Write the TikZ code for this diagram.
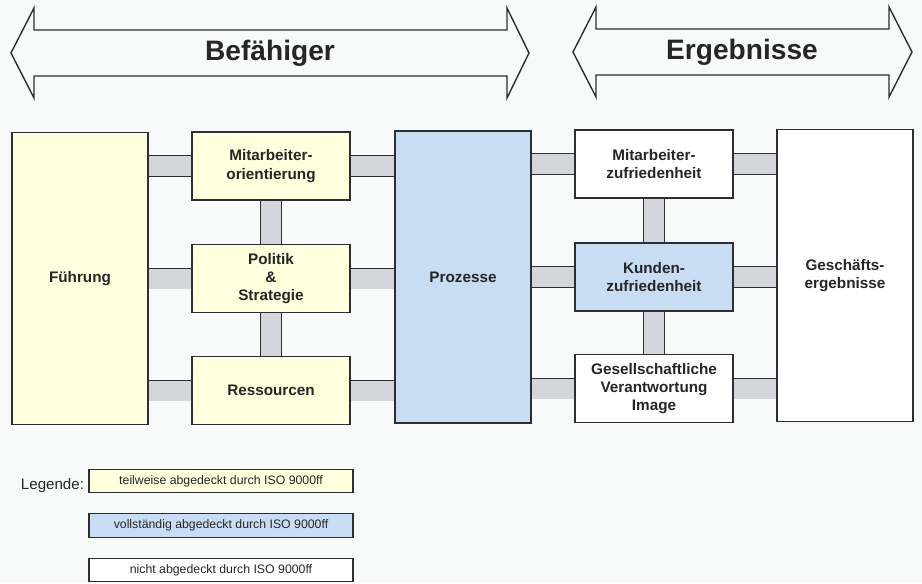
\documentclass[tikz,border=0pt]{standalone}
\usepackage{fontspec}
\setmainfont{Liberation Sans}
\usetikzlibrary{backgrounds}
\definecolor{teilgelb}{RGB}{255,255,222}
\definecolor{vollblau}{RGB}{200,221,243}
\definecolor{steggrau}{RGB}{212,213,220}
\definecolor{linie}{RGB}{45,45,52}
\definecolor{papier}{RGB}{248,250,250}
\begin{document}
\begin{tikzpicture}[x=0.02cm,y=-0.02cm,inner sep=0pt,outer sep=0pt,line width=0.8pt,
every node/.style={text=black!85,align=center,font=\fontsize{8.7}{10.4}\selectfont\bfseries},
kasten/.style={draw=linie,fill=white,rectangle,minimum width=3.16cm,minimum height=1.36cm},
saeule/.style={draw=linie,fill=white,rectangle,minimum width=2.72cm,minimum height=5.84cm},
steg/.style={draw=linie,double=steggrau,double distance=0.4cm},
pfeil/.style={draw=linie,line join=miter},
titel/.style={font=\fontsize{16}{19}\selectfont\bfseries},
legbox/.style={draw=linie,rectangle,minimum width=5.28cm,minimum height=0.47cm,font=\fontsize{7}{8}\selectfont}]
\useasboundingbox (0,0) rectangle (922,583);
\draw[pfeil] (11,53) -- (34,8) -- (34,30) -- (507,30) -- (507,8) -- (529,53) -- (507,98) -- (507,76) -- (34,76) -- (34,98) -- cycle;
\draw[pfeil] (573,52) -- (596,7) -- (596,29) -- (889,29) -- (889,7) -- (912,52) -- (889,97) -- (889,75) -- (596,75) -- (596,97) -- cycle;
\draw (270,53) node[titel] (befaehiger) {Befähiger};
\draw (742,52) node[titel] (ergebnisse) {Ergebnisse};
\draw (80,278.5) node[saeule,fill=teilgelb] (fuehrung) {Führung};
\draw (271,166) node[kasten,fill=teilgelb] (mao) {Mitarbeiter-\\orientierung};
\draw (271,278.5) node[kasten,fill=teilgelb] (politik) {Politik\\\&\\Strategie};
\draw (271,390.5) node[kasten,fill=teilgelb] (ressourcen) {Ressourcen};
\draw (463,277) node[saeule,fill=vollblau] (prozesse) {Prozesse};
\draw (654,164) node[kasten] (mzf) {Mitarbeiter-\\zufriedenheit};
\draw (654,277) node[kasten,fill=vollblau] (kunden) {Kunden-\\zufriedenheit};
\draw (654,388.5) node[kasten] (gesell) {Gesellschaftliche\\Verantwortung\\Image};
\draw (845,275.5) node[saeule] (geschaeft) {Geschäfts-\\ergebnisse};
\draw (221,481) node[legbox,fill=teilgelb] (leg1) {teilweise abgedeckt durch ISO 9000ff};
\draw (221,525.5) node[legbox,fill=vollblau] (leg2) {vollständig abgedeckt durch ISO 9000ff};
\draw (221,570) node[legbox,fill=white] (leg3) {nicht abgedeckt durch ISO 9000ff};
\draw (84,486) node[anchor=east,font=\fontsize{8.6}{10}\selectfont] (legende) {Legende:};
\begin{scope}[on background layer]
\fill[papier] (0,0) rectangle (922,583);
\draw[steg] (fuehrung.east |- mao.west) -- (mao.west);
\draw[steg] (fuehrung.east |- politik.west) -- (politik.west);
\draw[steg] (fuehrung.east |- ressourcen.west) -- (ressourcen.west);
\draw[steg] (mao.east) -- (prozesse.west |- mao.east);
\draw[steg] (politik.east) -- (prozesse.west |- politik.east);
\draw[steg] (ressourcen.east) -- (prozesse.west |- ressourcen.east);
\draw[steg] (mao.south) -- (politik.north);
\draw[steg] (politik.south) -- (ressourcen.north);
\draw[steg] (prozesse.east |- mzf.west) -- (mzf.west);
\draw[steg] (prozesse.east |- kunden.west) -- (kunden.west);
\draw[steg] (prozesse.east |- gesell.west) -- (gesell.west);
\draw[steg] (mzf.east) -- (geschaeft.west |- mzf.east);
\draw[steg] (kunden.east) -- (geschaeft.west |- kunden.east);
\draw[steg] (gesell.east) -- (geschaeft.west |- gesell.east);
\draw[steg] (mzf.south) -- (kunden.north);
\draw[steg] (kunden.south) -- (gesell.north);
\end{scope}
\end{tikzpicture}
\end{document}
